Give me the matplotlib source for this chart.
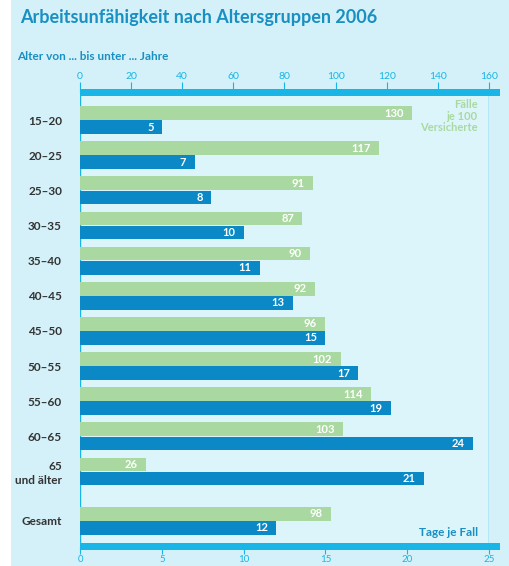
import matplotlib.pyplot as plt
from matplotlib.patches import Rectangle

# data
groups = ["15–20", "20–25", "25–30", "30–35", "35–40", "40–45", "45–50",
          "50–55", "55–60", "60–65", "65\nund älter", "Gesamt"]
faelle = [130, 117, 91, 87, 90, 92, 96, 102, 114, 103, 26, 98]   # Fälle je 100 Versicherte
tage = [5, 7, 8, 10, 11, 13, 15, 17, 19, 24, 21, 12]              # Tage je Fall
ypos = [0, 1, 2, 3, 4, 5, 6, 7, 8, 9, 10, 11.4]

green = "#a9d9a1"
blue = "#0a89c6"
cyan = "#19b5e6"
title_col = "#1a8fc2"
W, H = 509, 566

plt.rcParams['font.family'] = ['Lato', 'DejaVu Sans']

fig = plt.figure(figsize=(W / 100, H / 100), dpi=100, facecolor="white")

def fx(px):
    return px / W

def fy(py):
    return 1 - py / H

# background panel
fig.add_artist(Rectangle((fx(11), 0), 1 - fx(11), 1, transform=fig.transFigure,
                         facecolor="#d4f1f9", edgecolor="none", zorder=-10))

ax = fig.add_axes([fx(80), fy(546), fx(489) - fx(80), fy(93) - fy(546)])
ax.set_facecolor("#dcf5fb")
ax_top = ax.twiny()

h = 0.39
ax_top.barh([y - 0.2 for y in ypos], faelle, height=h, color=green, zorder=3)
ax.barh([y + 0.2 for y in ypos], tage, height=h, color=blue, zorder=3)

ax.set_xlim(0, 25)
ax_top.set_xlim(0, 160)
ax.set_ylim(12.12, -0.77)

for y, v in zip(ypos, faelle):
    ax_top.text(v - 3.3, y - 0.2, str(v), ha="right", va="center", color="white",
                fontsize=8, fontweight="bold", zorder=4)
for y, v in zip(ypos, tage):
    ax.text(v - 0.5, y + 0.2, str(v), ha="right", va="center", color="white",
            fontsize=8, fontweight="bold", zorder=4)

ax.set_yticks(ypos)
ax.set_yticklabels(groups, fontsize=8.5, fontweight="bold", color="#333333",
                   linespacing=1.3)
ax.tick_params(axis="y", length=0, pad=13)

ax.set_xticks([0, 5, 10, 15, 20, 25])
ax.tick_params(axis="x", colors=cyan, labelsize=7, length=6, width=0.8, pad=0.5)
ax_top.set_xticks(range(0, 161, 20))
ax_top.tick_params(axis="x", colors=cyan, labelsize=7.5, length=8, width=0.8, pad=1)

for a in (ax, ax_top):
    for s in a.spines.values():
        s.set_visible(False)
ax.axvline(0, color=cyan, lw=1, zorder=2)
ax.axvline(25, color=cyan, lw=1, zorder=2)

# thick bars along the top and bottom scale
fig.add_artist(Rectangle((fx(80), fy(96)), fx(500) - fx(80), fy(89) - fy(96),
                         transform=fig.transFigure, facecolor=cyan,
                         edgecolor="none", zorder=5))
fig.add_artist(Rectangle((fx(80), fy(550)), fx(500) - fx(80), fy(543) - fy(550),
                         transform=fig.transFigure, facecolor=cyan,
                         edgecolor="none", zorder=5))

fig.text(fx(20), fy(18), "Arbeitsunfähigkeit nach Altersgruppen 2006",
         color=title_col, fontsize=13, fontweight="bold", va="center")
fig.text(fx(17), fy(56), "Alter von ... bis unter ... Jahre",
         color=title_col, fontsize=8.5, fontweight="bold", va="center")
fig.text(fx(478), fy(116), "Fälle\nje 100\nVersicherte", color=green,
         fontsize=8, fontweight="bold", ha="right", va="center",
         linespacing=1.05)
fig.text(fx(478), fy(532), "Tage je Fall", color=title_col, fontsize=8.5,
         fontweight="bold", ha="right", va="center")

plt.savefig("out.png", dpi=100)
